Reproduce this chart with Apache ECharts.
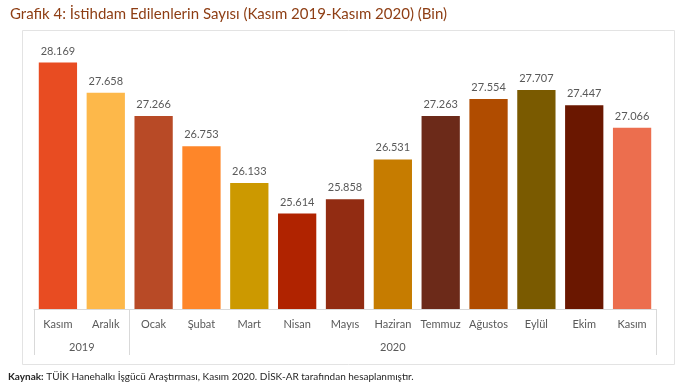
<!DOCTYPE html>
<html>
<head>
<meta charset="utf-8">
<script src="https://cdn.jsdelivr.net/npm/echarts@6/dist/echarts.min.js"></script>
<style>
html,body{margin:0;padding:0;background:#fff;}
#c{width:690px;height:390px;}
</style>
</head>
<body>
<div id="c"></div>
<script>
var months = ['Kasım','Aralık','Ocak','Şubat','Mart','Nisan','Mayıs','Haziran','Temmuz','Ağustos','Eylül','Ekim','Kasım'];
var values = [28.169, 27.658, 27.266, 26.753, 26.133, 25.614, 25.858, 26.531, 27.263, 27.554, 27.707, 27.447, 27.066];
var years = ['2019', '2020'];
var yearSpans = [[0, 2], [2, 13]]; // category index ranges per year
var barColors = ['#E84C22','#FDB84A','#B84A26','#FE8629','#CC9900','#B02300','#922C12','#C67C00','#6C2A19','#B04C00','#7A5A00','#6A1700','#EC6E4E'];

var yearCenters = yearSpans.map(function(s){ return (s[0] + s[1]) / 2; });
var yearBounds = [0].concat(yearSpans.map(function(s){ return s[1]; }));

var chart = echarts.init(document.getElementById('c'), null, {renderer: 'canvas'});
var fontFam = 'Lato, "Open Sans", sans-serif';
chart.setOption({
  animation: false,
  textStyle: {fontFamily: fontFam},
  title: {
    text: 'Grafik 4: İstihdam Edilenlerin Sayısı (Kasım 2019-Kasım 2020) (Bin)',
    left: 5, top: 2,
    textStyle: {fontFamily: fontFam, fontSize: 15, fontWeight: 'normal', color: '#8E3E14'}
  },
  graphic: [
    {type: 'rect', left: 20, top: 28, shape: {width: 652, height: 334}, style: {fill: 'none', stroke: '#E3E3E3', lineWidth: 1}, silent: true},
    {type: 'text', left: 8, top: 372, style: {
      text: '{b|Kaynak:} TÜİK Hanehalkı İşgücü Araştırması, Kasım 2020. DİSK-AR tarafından hesaplanmıştır.',
      rich: {b: {fontWeight: 'bold', fontSize: 10, fontFamily: fontFam, fill: '#262626'}},
      fontSize: 10, fontFamily: fontFam, fill: '#262626'
    }}
  ],
  grid: {left: 34, right: 34, top: 43, bottom: 81, containLabel: false},
  xAxis: [
    {
      type: 'category', data: months, position: 'bottom',
      axisLine: {show: true, lineStyle: {color: '#D9D9D9'}},
      axisTick: {show: false},
      axisLabel: {color: '#595959', fontSize: 11, margin: 10, interval: 0, fontFamily: fontFam}
    },
    {
      type: 'value', min: 0, max: months.length, position: 'bottom',
      axisLine: {show: false},
      splitLine: {show: false},
      axisTick: {show: true, customValues: yearBounds, length: 46, lineStyle: {color: '#D9D9D9'}},
      axisLabel: {
        customValues: yearCenters, color: '#595959', fontSize: 11, margin: 33, fontFamily: fontFam,
        formatter: function(v){ var i = yearCenters.indexOf(v); return i >= 0 ? years[i] : ''; }
      }
    }
  ],
  yAxis: {type: 'value', min: 24, max: 28.5, show: false, splitLine: {show: false}},
  series: [{
    type: 'bar',
    xAxisIndex: 0,
    barCategoryGap: '20%',
    data: values.map(function(v, i){ return {value: v, itemStyle: {color: barColors[i]}}; }),
    label: {
      show: true, position: 'top', distance: 6, color: '#595959', fontSize: 11, fontFamily: fontFam,
      formatter: function(p){ return p.value.toFixed(3); }
    }
  }]
});
</script>
</body>
</html>
